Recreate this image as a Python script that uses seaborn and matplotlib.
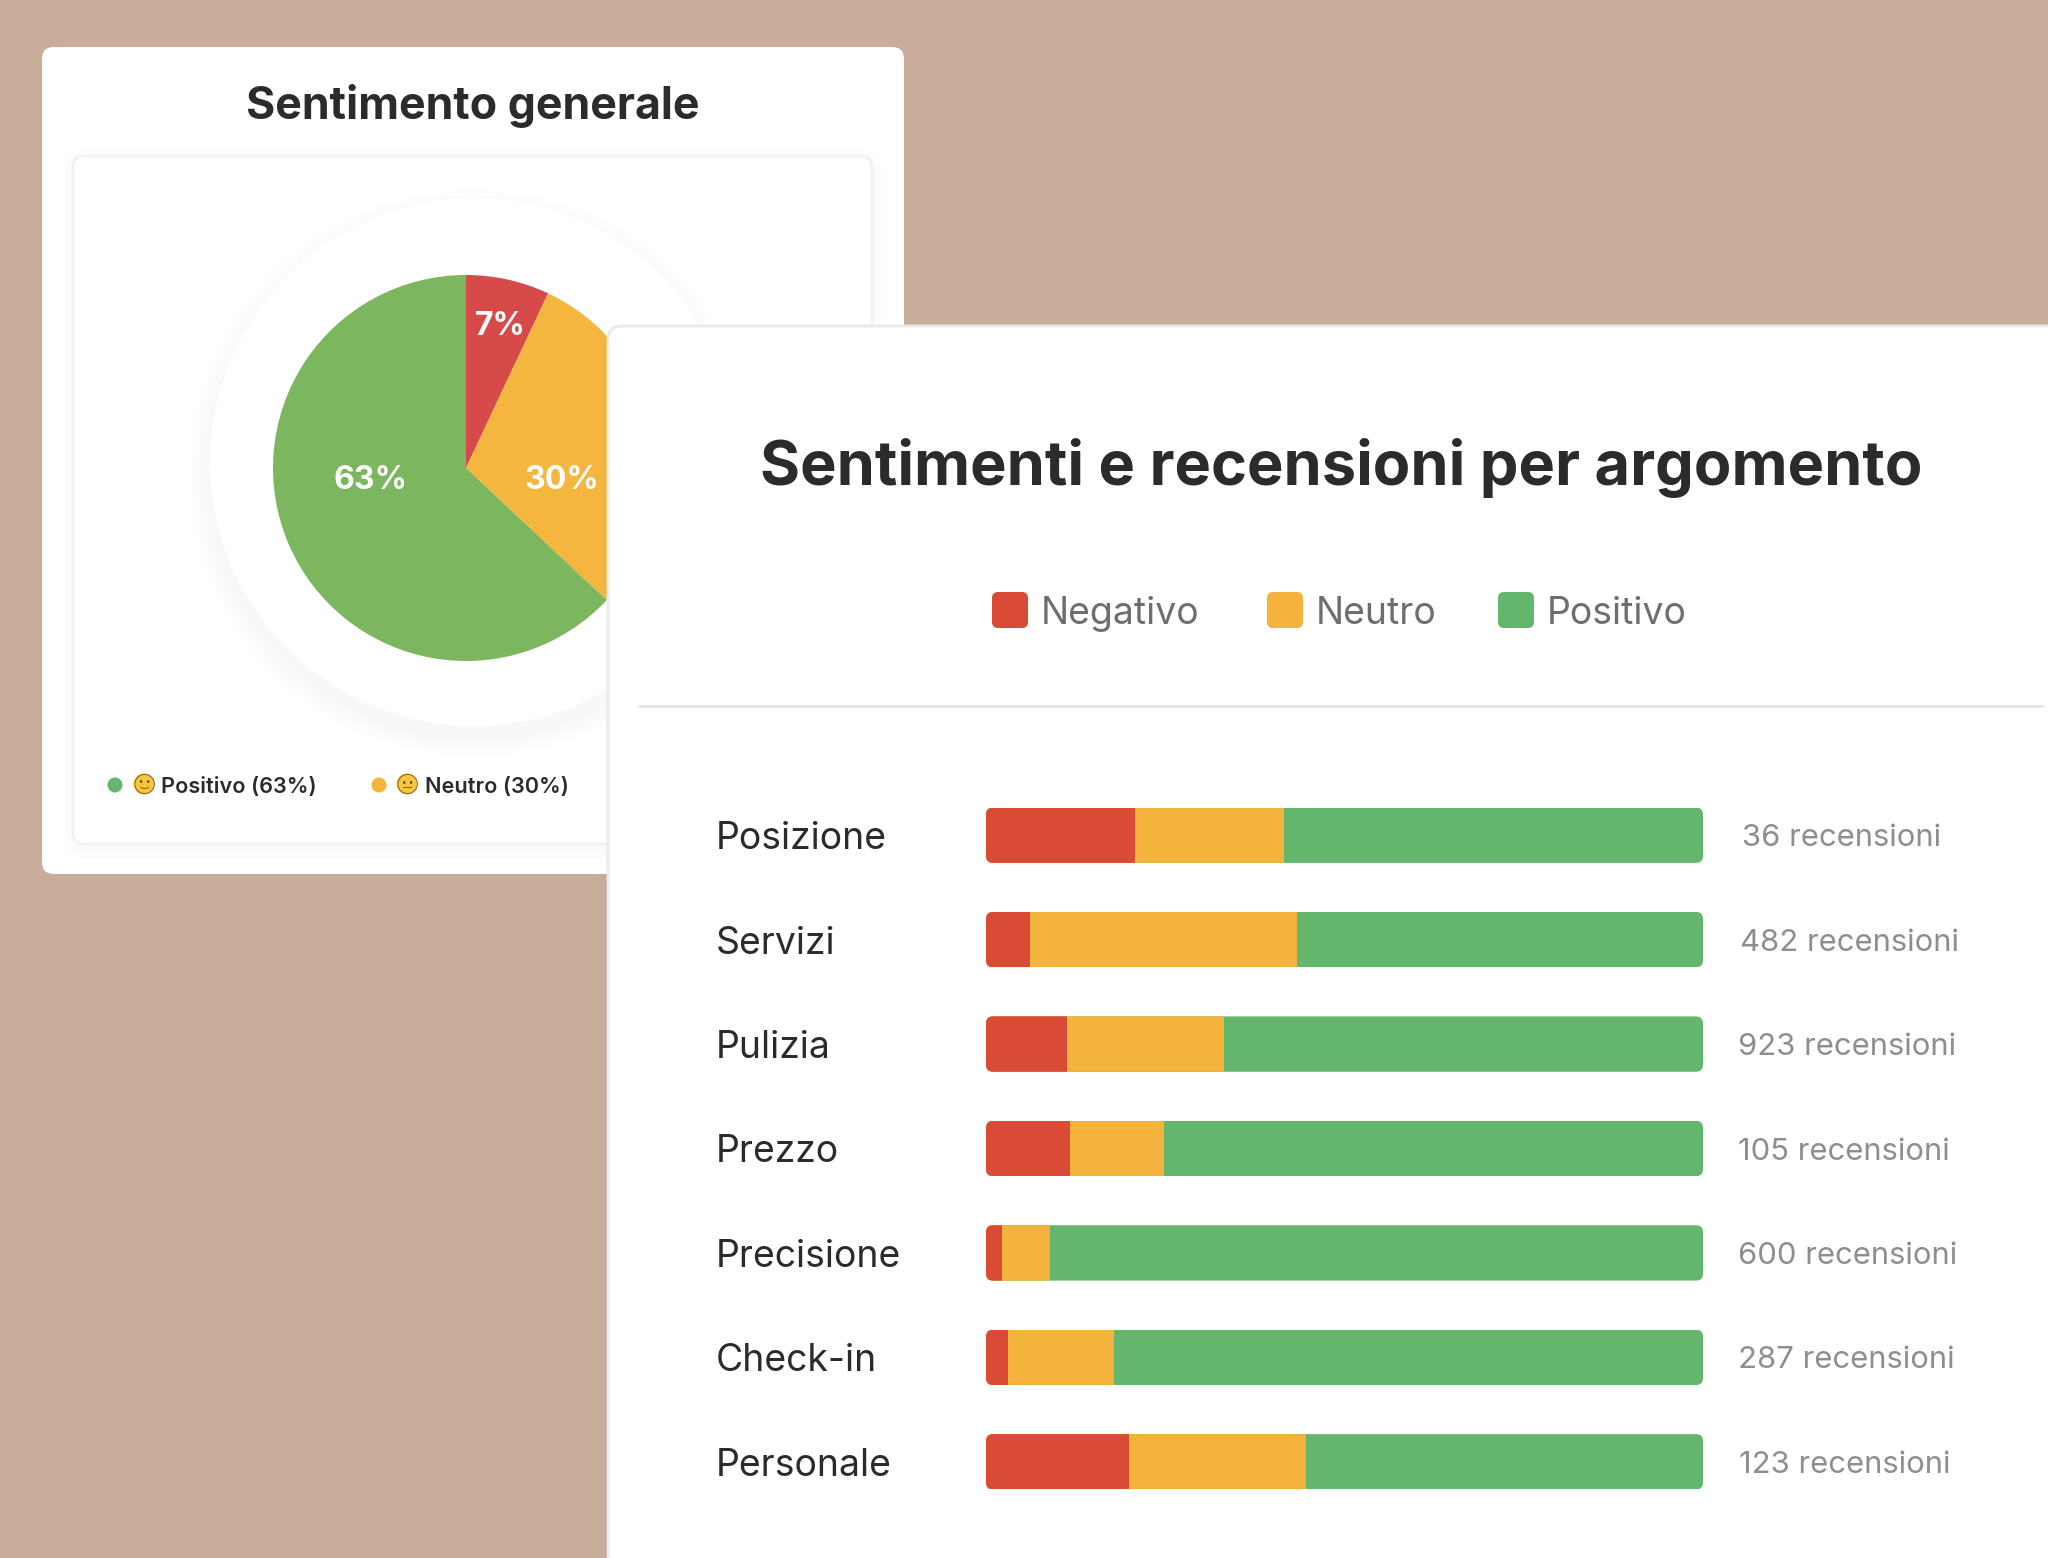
# Sentiment dashboard: overall pie card behind, stacked bars per topic in front
import pandas as pd
import matplotlib.pyplot as plt
import seaborn as sns
from matplotlib.patches import Circle, FancyBboxPatch
from matplotlib.transforms import IdentityTransform

# data
pie_labels = ["Negativo", "Neutro", "Positivo"]
pie_values = [7, 30, 63]

topics = ["Posizione", "Servizi", "Pulizia", "Prezzo", "Precisione", "Check-in", "Personale"]
negativo = [20.8, 6.2, 11.3, 11.7, 2.2, 3.1, 19.9]
neutro = [20.7, 37.2, 21.9, 13.1, 6.7, 14.8, 24.7]
positivo = [58.5, 56.6, 66.8, 75.2, 91.1, 82.1, 55.4]
reviews = [36, 482, 923, 105, 600, 287, 123]

# colours
BG = "#C8AD9B"
PIE_COLORS = ["#D64B4A", "#F4B63F", "#7CB65F"]
RED, ORANGE, GREEN = "#D94B37", "#F3B33D", "#63B66B"
DARK = "#2B2B2D"

W, H = 2048, 1558
DPI = 200


def pt(px):
    return px * 72 / DPI


def px_axes(x0, y0, x1, y1, z):
    ax = fig.add_axes([x0 / W, 1 - y1 / H, (x1 - x0) / W, (y1 - y0) / H], zorder=z)
    ax.patch.set_visible(False)
    return ax


def card(ax, x0, y0, x1, y1, radius, edge="none", layers=0):
    # soft shadow = a stack of very faint bigger boxes (alpha under 1/255 would vanish)
    for i in range(layers):
        g = (layers - i) * 3
        ax.add_patch(FancyBboxPatch((x0 - g, y0 + 4 - g), x1 - x0 + 2 * g, y1 - y0 + 2 * g,
                                    boxstyle=f"round,pad=0,rounding_size={radius + g}",
                                    fc="black", ec="none", alpha=0.004))
    ax.add_patch(FancyBboxPatch((x0, y0), x1 - x0, y1 - y0,
                                boxstyle=f"round,pad=0,rounding_size={radius}",
                                fc="white", ec=edge, lw=1))


sns.set_theme(style="white")
plt.rcParams["font.family"] = ["Inter", "DejaVu Sans"]

fig = plt.figure(figsize=(W / DPI, H / DPI), dpi=DPI, facecolor=BG)

# back card
back = px_axes(0, 0, W, H, 0)
back.set_xlim(0, W)
back.set_ylim(H, 0)
back.axis("off")
card(back, 42, 47, 904, 874, 12)
card(back, 73, 156, 872, 844, 12, edge="#F2F2F2", layers=4)

for i in range(7):
    back.add_patch(Circle((474, 473), 264 + (7 - i) * 3, fc="black", ec="none", alpha=0.004))
back.add_patch(Circle((474, 462), 264, fc="white", ec="none"))

back.text(473, 105.5, "Sentimento generale", ha="center", va="center",
          fontsize=pt(44.7), fontweight="bold", color=DARK)

# pie legend, the emoji are outline glyphs on a yellow disc
legend_rows = [(115, 144, 161, GREEN, "\U0001F642", "Positivo (63%)"),
               (379, 407, 425, ORANGE, "\U0001F610", "Neutro (30%)")]
for dot_x, emo_x, txt_x, col, emo, txt in legend_rows:
    back.add_patch(Circle((dot_x, 785), 7.5, fc=col, ec="none"))
    back.add_patch(Circle((emo_x, 784), 10.5, fc="#F9C440", ec="none"))
    back.text(emo_x, 784, emo, ha="center", va="center", fontsize=pt(20),
              family="Noto Emoji", color="#6B4A12")
    back.text(txt_x, 787, txt, ha="left", va="center", fontsize=pt(21.7),
              fontweight="semibold", color=DARK)

# pie
pie_ax = px_axes(466 - 193, 468 - 193, 466 + 193, 468 + 193, 1)
wedges, _, autotexts = pie_ax.pie(pie_values, colors=PIE_COLORS, startangle=90, counterclock=False,
                                  autopct="%d%%", radius=1, wedgeprops=dict(lw=0, ec="none"),
                                  textprops=dict(color="white", fontweight="bold", fontsize=pt(32)))
pie_ax.set_xlim(-1, 1)
pie_ax.set_ylim(-1, 1)
# labels sit where the original had them, not on the wedge middle
label_pos = [(0.177, 0.735), (0.495, -0.065), (-0.495, -0.065)]
for t, p in zip(autotexts, label_pos):
    t.set_position(p)
    t.set_ha("center")
    t.set_va("center")

# front card
front = px_axes(0, 0, W, H, 2)
front.set_xlim(0, W)
front.set_ylim(H, 0)
front.axis("off")
card(front, 608, 326, W + 60, H + 60, 14, edge="#EAEAEA", layers=2)

front.text(1341, 468, "Sentimenti e recensioni per argomento", ha="center", va="center",
           fontsize=pt(61.4), fontweight="bold", color=DARK)
front.plot([639, 2043], [706, 706], color="#E6E6E6", lw=1)

legend_boxes = [(992, 1041, RED), (1267, 1316, ORANGE), (1498, 1547, GREEN)]
for (box_x, txt_x, col), name in zip(legend_boxes, pie_labels):
    front.add_patch(FancyBboxPatch((box_x, 592), 36, 36, boxstyle="round,pad=0,rounding_size=6",
                                   fc=col, ec="none"))
    front.text(txt_x, 614, name, ha="left", va="center", fontsize=pt(37.4), color="#6E6E6E")

# stacked bars: drawn back to front from the running totals
df = pd.DataFrame({"topic": topics, "neg": negativo, "neu": neutro, "pos": positivo})
df["neg_end"] = df["neg"]
df["neu_end"] = df["neg"] + df["neu"]
df["pos_end"] = df["neg"] + df["neu"] + df["pos"]

bar_ax = px_axes(986, 783, 1703, 1514, 3)
for col, colour in [("pos_end", GREEN), ("neu_end", ORANGE), ("neg_end", RED)]:
    sns.barplot(data=df, y="topic", x=col, color=colour, saturation=1, width=0.53,
                orient="h", linewidth=0, edgecolor="none", ax=bar_ax)
bar_ax.set_xlim(0, 100)
bar_ax.set_xlabel("")
bar_ax.set_ylabel("")
bar_ax.set_xticks([])
sns.despine(ax=bar_ax, left=True, bottom=True)
bar_ax.tick_params(axis="y", length=0, pad=pt(986 - 716))
for lab in bar_ax.get_yticklabels():
    lab.set_ha("left")
    lab.set_fontsize(pt(37.4))
    lab.set_color(DARK)

anns = bar_ax.bar_label(bar_ax.containers[0], labels=[f"{n} recensioni" for n in reviews],
                        padding=pt(36), fontsize=pt(31), color="#8E8E8E")
# counts are not quite aligned in the original
count_shift = [2.6, 1.3, -1.3, -1.5, -1.5, -1.3, 0]
for a, s in zip(anns, count_shift):
    a.xyann = (pt(36 + s), pt(-3))

# small round corners on the bar ends
for k in range(len(topics)):
    ext = bar_ax.containers[0][k].get_window_extent()
    clip = FancyBboxPatch((ext.x0, ext.y0), ext.width, ext.height,
                          boxstyle="round,pad=0,rounding_size=7", transform=IdentityTransform())
    for cont in bar_ax.containers:
        cont[k].set_clip_path(clip)

fig.savefig("out.png", dpi=DPI, facecolor=BG)
